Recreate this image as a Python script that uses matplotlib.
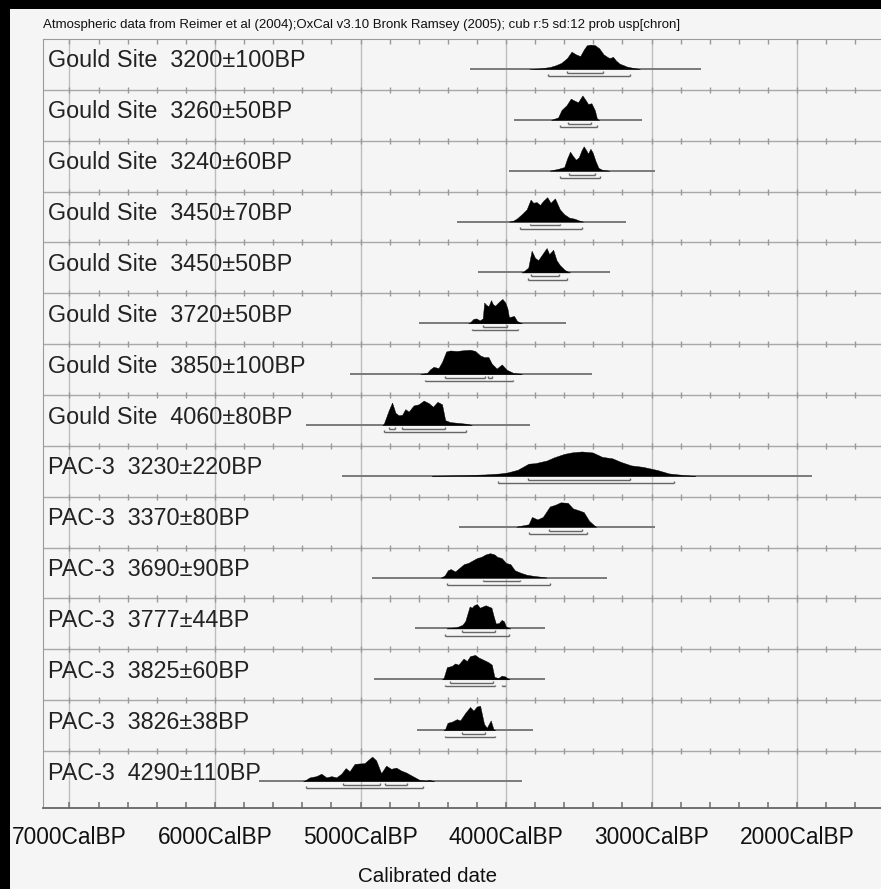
import numpy as np
import matplotlib.pyplot as plt
from matplotlib.patches import Rectangle

plt.rcParams['font.family'] = ['Liberation Sans', 'DejaVu Sans']

header = ("Atmospheric data from Reimer et al (2004);OxCal v3.10 Bronk Ramsey (2005); "
          "cub r:5 sd:12 prob usp[chron]")

labels = [
    "Gould Site  3200±100BP", "Gould Site  3260±50BP", "Gould Site  3240±60BP",
    "Gould Site  3450±70BP", "Gould Site  3450±50BP", "Gould Site  3720±50BP",
    "Gould Site  3850±100BP", "Gould Site  4060±80BP", "PAC-3  3230±220BP",
    "PAC-3  3370±80BP", "PAC-3  3690±90BP", "PAC-3  3777±44BP",
    "PAC-3  3825±60BP", "PAC-3  3826±38BP", "PAC-3  4290±110BP",
]

# calibrated probability profiles: (cal BP, relative probability)
gould_3200 = [(3840, 0), (3760, 0.03), (3700, 0.08), (3660, 0.15), (3620, 0.25), (3580, 0.45),
              (3550, 0.71), (3520, 0.6), (3490, 0.53), (3465, 0.8), (3445, 0.97), (3420, 1.0),
              (3390, 0.98), (3360, 0.85), (3330, 0.6), (3300, 0.48), (3285, 0.45), (3265, 0.5),
              (3245, 0.35), (3220, 0.22), (3190, 0.15), (3170, 0.1), (3130, 0.05), (3080, 0)]
gould_3260 = [(3690, 0), (3676, 0.03), (3642, 0.1), (3619, 0.4), (3584, 0.6), (3555, 0.87),
              (3527, 0.78), (3505, 0.72), (3475, 1.0), (3452, 0.8), (3436, 0.65), (3413, 0.68),
              (3390, 0.4), (3375, 0.05), (3360, 0)]
gould_3240 = [(3700, 0), (3687, 0.02), (3640, 0.08), (3600, 0.15), (3580, 0.5), (3560, 0.78),
              (3540, 0.6), (3520, 0.45), (3500, 0.55), (3480, 0.85), (3466, 1.0), (3450, 0.85),
              (3436, 0.7), (3420, 0.9), (3405, 0.75), (3385, 0.4), (3365, 0.12), (3340, 0.04),
              (3290, 0)]
gould_3450a = [(3980, 0), (3950, 0.04), (3927, 0.12), (3892, 0.3), (3858, 0.5), (3831, 0.9),
               (3813, 0.77), (3790, 0.8), (3767, 0.68), (3744, 0.85), (3717, 1.0), (3694, 0.77),
               (3664, 0.95), (3630, 0.5), (3600, 0.3), (3565, 0.16), (3530, 0.12), (3500, 0.05),
               (3470, 0)]
gould_3450b = [(3895, 0), (3881, 0.03), (3847, 0.2), (3824, 0.89), (3801, 0.6), (3779, 0.5),
               (3756, 0.7), (3721, 1.0), (3703, 0.75), (3676, 0.93), (3653, 0.5), (3630, 0.3),
               (3596, 0.1), (3573, 0.03), (3560, 0)]
gould_3720 = [(4260, 0), (4250, 0.02), (4224, 0.18), (4205, 0.2), (4180, 0.12), (4160, 0.2),
              (4150, 0.85), (4135, 0.75), (4120, 0.7), (4103, 0.95), (4090, 0.78), (4075, 0.72),
              (4045, 0.9), (4025, 1.0), (4005, 0.85), (3990, 0.6), (3980, 0.25), (3960, 0.28),
              (3945, 0.3), (3925, 0.1), (3900, 0.02), (3890, 0)]
gould_3850 = [(4590, 0), (4577, 0.02), (4543, 0.05), (4521, 0.2), (4498, 0.3), (4464, 0.25),
              (4440, 0.5), (4411, 0.93), (4384, 0.97), (4338, 0.95), (4293, 0.98), (4247, 1.0),
              (4212, 0.95), (4178, 0.77), (4151, 0.7), (4121, 0.7), (4098, 0.43), (4064, 0.23),
              (4029, 0.4), (3995, 0.18), (3950, 0.05), (3904, 0.02), (3890, 0)]
gould_4060 = [(4850, 0), (4840, 0.05), (4806, 0.6), (4783, 0.92), (4760, 0.5), (4738, 0.4),
              (4714, 0.42), (4692, 0.65), (4669, 0.55), (4635, 0.8), (4600, 0.85), (4566, 1.0),
              (4532, 0.9), (4502, 0.75), (4471, 0.95), (4440, 0.85), (4418, 0.2), (4384, 0.12),
              (4350, 0.1), (4315, 0.08), (4269, 0.05), (4247, 0.02), (4235, 0)]
pac_3230 = [(4510, 0), (4500, 0.01), (4290, 0.03), (4140, 0.06), (4040, 0.1), (3990, 0.14),
            (3920, 0.25), (3845, 0.5), (3800, 0.52), (3720, 0.63), (3670, 0.76), (3600, 0.9),
            (3550, 0.96), (3480, 1.0), (3405, 0.96), (3340, 0.78), (3270, 0.72), (3210, 0.57),
            (3140, 0.43), (3060, 0.37), (2960, 0.24), (2880, 0.1), (2770, 0.03), (2720, 0.01),
            (2700, 0)]
pac_3370 = [(3930, 0), (3918, 0.02), (3845, 0.1), (3822, 0.4), (3784, 0.3), (3747, 0.4),
            (3699, 0.83), (3662, 0.9), (3625, 1.0), (3576, 0.98), (3540, 0.75), (3503, 0.68),
            (3466, 0.6), (3430, 0.25), (3393, 0.05), (3380, 0)]
pac_3690 = [(4450, 0), (4440, 0.02), (4420, 0.1), (4400, 0.3), (4380, 0.35), (4350, 0.25),
            (4320, 0.4), (4290, 0.55), (4260, 0.6), (4230, 0.7), (4200, 0.8), (4170, 0.85),
            (4140, 0.95), (4110, 1.0), (4080, 0.95), (4060, 0.85), (4030, 0.8), (4000, 0.6),
            (3970, 0.55), (3940, 0.3), (3900, 0.2), (3860, 0.12), (3820, 0.08), (3780, 0.05),
            (3740, 0.02), (3720, 0)]
pac_3777 = [(4410, 0), (4400, 0.02), (4340, 0.05), (4300, 0.15), (4280, 0.3), (4265, 0.6),
            (4250, 0.9), (4235, 0.85), (4220, 0.95), (4200, 1.0), (4180, 0.85), (4160, 0.9),
            (4140, 0.95), (4120, 0.9), (4100, 0.85), (4085, 0.5), (4070, 0.2), (4050, 0.22),
            (4030, 0.35), (4015, 0.3), (4000, 0.08), (3980, 0.02), (3970, 0)]
pac_3825 = [(4440, 0), (4429, 0.05), (4406, 0.5), (4372, 0.55), (4350, 0.65), (4327, 0.6),
            (4292, 0.85), (4269, 0.75), (4247, 0.95), (4212, 1.0), (4190, 0.9), (4155, 0.8),
            (4121, 0.7), (4098, 0.6), (4080, 0.1), (4053, 0.05), (4030, 0.15), (4007, 0.12),
            (3984, 0.02), (3975, 0)]
pac_3826 = [(4430, 0), (4418, 0.05), (4402, 0.3), (4372, 0.35), (4338, 0.45), (4315, 0.4),
            (4281, 0.7), (4247, 0.95), (4224, 0.8), (4201, 0.97), (4178, 1.0), (4151, 0.25),
            (4132, 0.1), (4105, 0.4), (4087, 0.05), (4075, 0)]
pac_4290 = [(5395, 0), (5384, 0.02), (5349, 0.15), (5304, 0.2), (5269, 0.3), (5235, 0.15),
            (5200, 0.2), (5166, 0.15), (5132, 0.3), (5102, 0.53), (5075, 0.4), (5041, 0.7),
            (5007, 0.72), (4973, 0.73), (4950, 0.85), (4920, 1.0), (4893, 0.85), (4858, 0.32),
            (4824, 0.63), (4790, 0.5), (4755, 0.55), (4721, 0.43), (4687, 0.35), (4641, 0.2),
            (4595, 0.05), (4550, 0.02), (4527, 0.05), (4504, 0.01), (4495, 0)]

profiles = [gould_3200, gould_3260, gould_3240, gould_3450a, gould_3450b, gould_3720,
            gould_3850, gould_4060, pac_3230, pac_3370, pac_3690, pac_3777, pac_3825,
            pac_3826, pac_4290]

# calculation range drawn under each curve
range_lines = [(4250, 2660), (3945, 3068), (3979, 2973), (4338, 3173), (4190, 3288),
               (4600, 3589), (5069, 3411), (5377, 3836), (5130, 1900), (4322, 2977),
               (4918, 3308), (4623, 3733), (4909, 3733), (4612, 3813), (5697, 3893)]

ranges_68 = [[(3584, 3333)], [(3573, 3413)], [(3566, 3390)], [(3836, 3630)], [(3831, 3637)],
             [(4155, 3995)], [(4418, 4144), (4123, 4096)], [(4806, 4760), (4714, 4418)],
             [(3850, 3148)], [(3703, 3479)], [(4158, 3904)], [(4303, 4075)], [(4388, 4087)],
             [(4303, 4144)], [(5118, 4863), (4829, 4680)]]

ranges_95 = [[(3712, 3150)], [(3630, 3375)], [(3630, 3351)], [(3904, 3481)], [(3847, 3580)],
             [(4235, 3916)], [(4555, 3950)], [(4840, 4274)], [(4053, 2847)], [(3845, 3442)],
             [(4404, 3699)], [(4418, 3977)], [(4418, 4075), (4030, 4007)], [(4418, 4075)],
             [(5372, 4573)]]

major_years = [7000, 6000, 5000, 4000, 3000, 2000]
major_labels = ["7000CalBP", "6000CalBP", "5000CalBP", "4000CalBP", "3000CalBP", "2000CalBP"]
minor_years = list(range(7200, 1300, -200))

W, H = 881, 889
bg = '#f5f5f5'
fig = plt.figure(figsize=(W / 100, H / 100), dpi=100)
fig.patch.set_facecolor(bg)

ax_top, ax_bot, ax_left = 39, 808, 43
ax = fig.add_axes([ax_left / W, 1 - ax_bot / H, 1 - ax_left / W, (ax_bot - ax_top) / H])
ax.set_facecolor(bg)
x0, x1 = 7182, 1423
nrows = len(labels)
ybot = 15.12
ax.set_xlim(x0, x1)
ax.set_ylim(ybot, 0)

# grid: full-height lines every 1000 years, row dividers with 200-year ticks
ax.vlines(major_years, 0, ybot, color='#bdbdbd', lw=1.0, zorder=1)
ax.hlines(range(1, nrows), x0, x1, color='#a8a8a8', lw=1.0, zorder=1)
for k in range(1, nrows):
    ax.vlines(minor_years, k - 0.06, k + 0.06, color='#999999', lw=1.0, zorder=1)
ax.vlines(minor_years, 0, 0.09, color='#999999', lw=1.0, zorder=1)
ax.vlines(minor_years, ybot - 0.12, ybot, color='#777777', lw=1.2, zorder=1)

base_off = 0.59
peak_h = 0.48
tick_h = 0.035


def bracket(a, b, y):
    ax.hlines(y, a, b, color='#666666', lw=1.0, zorder=2)
    ax.vlines([a, b], y - tick_h, y, color='#666666', lw=1.0, zorder=2)


for i in range(nrows):
    base = i + base_off
    r0, r1 = range_lines[i]
    ax.hlines(base, r0, r1, color='#7a7a7a', lw=1.4, zorder=2)
    yrs = np.array([p[0] for p in profiles[i]])
    prob = np.array([p[1] for p in profiles[i]])
    ax.fill_between(yrs, base, base - peak_h * prob, color='black', lw=0.3, zorder=3)
    for a, b in ranges_68[i]:
        bracket(a, b, base + 0.075)
    for a, b in ranges_95[i]:
        bracket(a, b, base + 0.14)
    ax.text(0.006, i + 0.56, labels[i], transform=ax.get_yaxis_transform(),
            fontsize=16.8, color='#222222', va='baseline', ha='left', zorder=4)

ax.set_xticks(major_years, major_labels)
ax.set_yticks([])
ax.tick_params(axis='x', length=0, pad=13, labelsize=16.4, labelcolor='#111111')
for side in ['left', 'top']:
    ax.spines[side].set_color('#9a9a9a')
ax.spines['bottom'].set_color('#666666')
ax.spines['bottom'].set_linewidth(1.3)
ax.spines['right'].set_visible(False)

fig.text(ax_left / W, 1 - 25 / H, header, fontsize=9.5, va='center', ha='left', color='#111111')
fig.text(428 / W, 1 - 876 / H, "Calibrated date", fontsize=14.8, ha='center', va='center',
         color='#111111')

# heavy frame on the left and top edges
fig.add_artist(Rectangle((0, 0), 10 / W, 1, transform=fig.transFigure, color='black', lw=0))
fig.add_artist(Rectangle((0, 1 - 9 / H), 1, 9 / H, transform=fig.transFigure, color='black', lw=0))

fig.savefig("out.png", dpi=100, facecolor=bg)
